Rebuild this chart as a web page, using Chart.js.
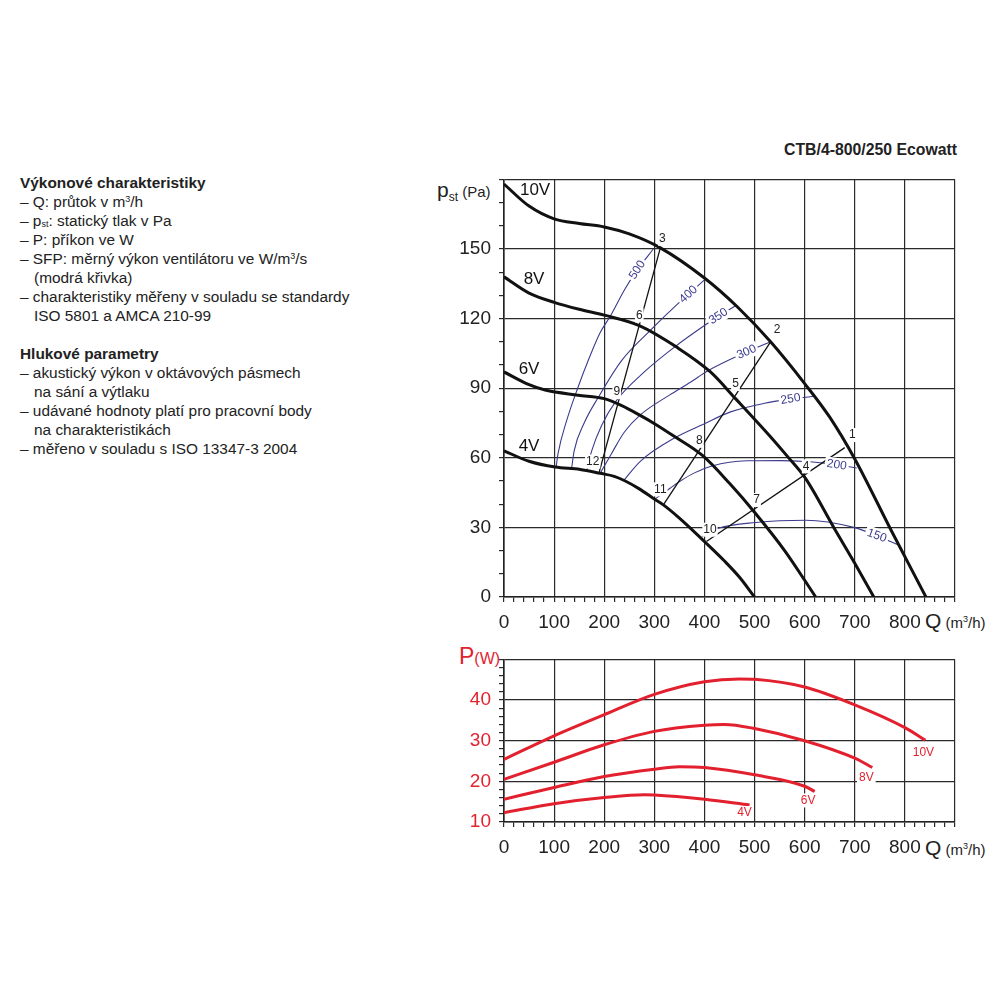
<!DOCTYPE html>
<html>
<head>
<meta charset="utf-8">
<script src="https://cdn.jsdelivr.net/npm/chart.js@4.4.0/dist/chart.umd.min.js"></script>
<style>
  body { margin: 0; background: #fff; font-family: 'Liberation Sans', Arial, sans-serif; color: #222; }
  #page { position: relative; width: 1000px; height: 1000px; overflow: hidden; }
  .abs { position: absolute; white-space: nowrap; }
  sup, sub { line-height: 0; }
  #notes { left: 20px; top: 173px; font-size: 15.4px; line-height: 19px; }
  #notes b { font-weight: bold; }
  #notes .in { padding-left: 14px; }
  #notes sub { font-size: 9px; vertical-align: -1px; }
  #notes sup { font-size: 9px; vertical-align: 5px; }
  #title { right: 43px; top: 141px; font-size: 15.8px; font-weight: bold; }
  .ax { line-height: 24px; }
  .ax sup { font-size: 9px; vertical-align: 6px; }
  .red { color: #e2232f; }
  canvas { position: absolute; }
</style>
</head>
<body>
<div id="page">
  <div id="notes" class="abs">
    <b>Výkonové charakteristiky</b><br>
    – Q: průtok v m<sup>3</sup>/h<br>
    – p<sub>st</sub>: statický tlak v Pa<br>
    – P: příkon ve W<br>
    – SFP: měrný výkon ventilátoru ve W/m<sup>3</sup>/s<br>
    <span class="in">(modrá křivka)</span><br>
    – charakteristiky měřeny v souladu se standardy<br>
    <span class="in">ISO 5801 a AMCA 210-99</span><br>
    <br>
    <b>Hlukové parametry</b><br>
    – akustický výkon v oktávových pásmech<br>
    <span class="in">na sání a výtlaku</span><br>
    – udávané hodnoty platí pro pracovní body<br>
    <span class="in">na charakteristikách</span><br>
    – měřeno v souladu s ISO 13347-3 2004
  </div>
  <div id="title" class="abs">CTB/4-800/250 Ecowatt</div>

  <div class="abs ax" style="left:437px; top:178px;"><span style="font-size:21px">p</span><span style="font-size:12px; vertical-align:-4px">st</span><span style="font-size:15px"> (Pa)</span></div>
  <div class="abs ax" style="left:925px; top:609px;"><span style="font-size:21px">Q</span><span style="font-size:15px"> (m<sup>3</sup>/h)</span></div>
  <div class="abs ax red" style="left:459px; top:644px;"><span style="font-size:23px">P</span><span style="font-size:16px">(W)</span></div>
  <div class="abs ax" style="left:925px; top:836px;"><span style="font-size:21px">Q</span><span style="font-size:15px"> (m<sup>3</sup>/h)</span></div>

  <canvas id="pressure" width="560" height="480" style="left:430px; top:160px;"></canvas>
  <canvas id="power" width="560" height="225" style="left:430px; top:640px;"></canvas>
</div>

<script>
// fan curves: [Q m3/h, pst Pa]
const curve10V = [[0,178],[50,168.5],[100,163],[150,161],[200,159.5],[250,156.5],[312,150.5],[400,137.5],[466,125],[532,110],[600,92],[650,77.5],[700,59.5],[772,29],[842,0]];
const curve8V = [[0,138],[50,131],[100,127],[150,124],[200,121.5],[270,117],[346,107.5],[412,97],[462,85.5],[530,69.5],[566,60.5],[602,51],[658,30],[700,14.5],[738,0]];
const curve6V = [[0,97],[50,91.5],[82,89.2],[148,87],[200,85.5],[235,82.5],[270,78.5],[302,74.5],[338,69.5],[396,61],[450,49],[502,36],[560,20],[622,0]];
const curve4V = [[0,63],[50,58.5],[102,56],[152,55],[192,53.3],[220,52],[242,50],[270,46.6],[300,42.2],[318,39.7],[350,34],[402,23.5],[440,15.5],[470,8.5],[500,0]];
const fanNames = ['10V', '8V', '6V', '4V'];
const fanNamePos = [[62,175.4],[60,137],[50,98],[50,64.8]];

// SFP curves (W/m3/s)
const sfp500 = [[104,56],[108,62],[125,76],[147,90],[170,103],[192,114],[212,121],[242,133],[266,141],[298,150]];
const sfp400 = [[135,55.5],[140,63],[160,75],[188,86],[235,102],[290,114.5],[345,126],[402,137]];
const sfp350 = [[165,54.5],[175,63],[195,74],[222,84],[280,97],[342,108],[400,117],[428,121],[462,125.5]];
const sfp300 = [[192,53.3],[215,62],[240,71],[272,78.5],[330,87],[372,92.6],[407,97.5],[482,105.4],[532,110]];
const sfp250 = [[238,50],[272,58.5],[340,68.5],[398,74.5],[452,79.8],[520,83.5],[572,85.3],[618,86.5]];
const sfp200 = [[300,42],[332,47],[352,50],[380,53.5],[415,56.5],[485,58.7],[552,58.8],[600,58.4],[639,57.7],[704,55.6]];
const sfp150 = [[395,26],[428,29.6],[502,32.1],[602,33.1],[698,30],[745,26.3],[786,22.5]];
const sfpValues = ['500', '400', '350', '300', '250', '200', '150'];
const sfpLabelQ = [266, 368, 428, 484, 572, 664, 744];

// system lines through operating points
const system1 = [[680,64.4],[404,23.9]];
const system2 = [[532,110],[318,39.7]];
const system3 = [[312,150.5],[190,53.8]];
const pointNumbers = ['1','2','3','4','5','6','7','8','9','10','11','12'];
const pointNumberPos = [[695,69.8],[545,115.3],[316,154.4],[603,56.3],[462,91.8],[270,121.4],[504,41.8],[390,67.3],[225,88.3],[411,29],[312,46.4],[177,58.4]];

// power curves: [Q m3/h, P W]
const power10V = [[0,25.4],[100,31.2],[200,36.4],[300,41.4],[400,44.5],[470,45.2],[500,45.1],[600,43.2],[700,38.8],[800,33.2],[841,30.1]];
const power8V = [[0,20.5],[100,24.7],[200,29],[300,32.3],[400,33.8],[440,34],[500,33],[600,30],[700,25.7],[735,23.4]];
const power6V = [[0,15.6],[100,18.5],[200,21.2],[300,23],[350,23.6],[400,23.4],[500,21.6],[600,18.8],[620,17.5]];
const power4V = [[0,12.3],[100,14.5],[200,16],[280,16.7],[300,16.65],[400,15.6],[490,14.2]];
const powerNamePos = [[837,27.1],[723,21],[607,15.3],[480,12.2]];

const FONT = "'Liberation Sans', Arial, sans-serif";
Chart.defaults.font.family = FONT;

function pts (arr) {
  return arr.map(([x, y]) => ({ x, y }))
}

function line (arr, color, width, smooth) {
  return {
    data: pts(arr),
    borderColor: color,
    borderWidth: width,
    pointRadius: 0,
    fill: false,
    cubicInterpolationMode: smooth ? 'monotone' : 'default',
    tension: 0
  }
}

function qScale () {
  return {
    type: 'linear', min: 0, max: 900,
    ticks: {
      stepSize: 20, autoSkip: false, maxRotation: 0, color: '#222',
      font: { size: 19 }, padding: 9,
      callback: (v) => (v % 100 === 0 && v < 900) ? v : ''
    },
    grid: {
      color: (c) => c.tick && c.tick.value % 100 === 0 ? '#2a2a2a' : 'rgba(0,0,0,0)',
      tickColor: '#2a2a2a', lineWidth: 1.2, tickLength: 5
    },
    border: { color: '#222', width: 1.6 },
    afterFit: (s) => { s.height = 43 }
  }
}

function valueScale (min, max, step, major, color) {
  return {
    type: 'linear', min: min, max: max,
    ticks: {
      stepSize: step, autoSkip: false, color: color, font: { size: 19 }, padding: 8,
      callback: (v) => (v % major === 0 && v < max) ? v : ''
    },
    grid: {
      color: (c) => c.tick && c.tick.value % major === 0 ? '#2a2a2a' : 'rgba(0,0,0,0)',
      tickColor: '#2a2a2a', lineWidth: 1.2, tickLength: 5
    },
    border: { color: '#222', width: 1.6 },
    afterFit: (s) => { s.width = 74 }
  }
}

function boxedText (ctx, text, px, py, angle, pad) {
  ctx.save();
  ctx.translate(px, py);
  ctx.rotate(angle);
  const w = ctx.measureText(text).width;
  ctx.fillStyle = '#fff';
  ctx.fillRect(-w / 2 - pad, -7, w + pad * 2, 14);
  ctx.fillStyle = ctx.strokeStyle;
  ctx.fillText(text, 0, 0);
  ctx.restore();
}

function curveAt (arr, q) {
  for (let i = 0; i < arr.length - 1; i++) {
    if (q >= arr[i][0] && q <= arr[i + 1][0]) {
      const t = (q - arr[i][0]) / (arr[i + 1][0] - arr[i][0]);
      return { y: arr[i][1] + t * (arr[i + 1][1] - arr[i][1]), a: arr[i], b: arr[i + 1] };
    }
  }
  return null;
}

const sfpCurves = [sfp500, sfp400, sfp350, sfp300, sfp250, sfp200, sfp150];

const pressureLabels = {
  id: 'pressureLabels',
  afterDatasetsDraw (chart) {
    const { ctx, scales: { x, y } } = chart;
    ctx.save();
    ctx.textAlign = 'center';
    ctx.textBaseline = 'middle';

    ctx.font = '17px ' + FONT;
    ctx.fillStyle = '#111';
    fanNames.forEach((n, i) => {
      ctx.fillText(n, x.getPixelForValue(fanNamePos[i][0]), y.getPixelForValue(fanNamePos[i][1]));
    });

    ctx.font = '12px ' + FONT;
    sfpCurves.forEach((arr, i) => {
      const hit = curveAt(arr, sfpLabelQ[i]);
      if (!hit) return;
      const dx = x.getPixelForValue(hit.b[0]) - x.getPixelForValue(hit.a[0]);
      const dy = y.getPixelForValue(hit.b[1]) - y.getPixelForValue(hit.a[1]);
      ctx.strokeStyle = '#3b3b8e';
      boxedText(ctx, sfpValues[i], x.getPixelForValue(sfpLabelQ[i]), y.getPixelForValue(hit.y), Math.atan2(dy, dx), 2);
    });

    ctx.font = '12px ' + FONT;
    pointNumbers.forEach((n, i) => {
      ctx.strokeStyle = '#222';
      boxedText(ctx, n, x.getPixelForValue(pointNumberPos[i][0]), y.getPixelForValue(pointNumberPos[i][1]), 0, 1);
    });
    ctx.restore();
  }
};

const powerLabels = {
  id: 'powerLabels',
  afterDatasetsDraw (chart) {
    const { ctx, scales: { x, y } } = chart;
    ctx.save();
    ctx.textAlign = 'center';
    ctx.textBaseline = 'middle';
    ctx.font = '12px ' + FONT;
    ctx.strokeStyle = '#e2232f';
    fanNames.forEach((n, i) => {
      boxedText(ctx, n, x.getPixelForValue(powerNamePos[i][0]), y.getPixelForValue(powerNamePos[i][1]), 0, 2);
    });
    ctx.restore();
  }
};

const common = {
  responsive: false,
  animation: false,
  events: [],
  devicePixelRatio: 1,
  plugins: { legend: { display: false }, tooltip: { enabled: false } }
};

const FAN = '#111';
const SFP = '#3b3b8e';

new Chart(document.getElementById('pressure'), {
  type: 'line',
  data: {
    datasets: [
      line(curve10V, FAN, 3, true),
      line(curve8V, FAN, 3, true),
      line(curve6V, FAN, 3, true),
      line(curve4V, FAN, 3, true),
      line(system1, '#111', 1.3, false),
      line(system2, '#111', 1.3, false),
      line(system3, '#111', 1.3, false),
      ...sfpCurves.map((arr) => line(arr, SFP, 1.1, true))
    ]
  },
  options: {
    ...common,
    layout: { padding: { top: 14, right: 35, left: 0, bottom: 0 } },
    scales: {
      x: qScale(),
      y: valueScale(0, 180, 10, 30, '#222')
    }
  },
  plugins: [pressureLabels]
});

const RED = '#e2202e';

new Chart(document.getElementById('power'), {
  type: 'line',
  data: {
    datasets: [
      line(power10V, RED, 3, true),
      line(power8V, RED, 3, true),
      line(power6V, RED, 3, true),
      line(power4V, RED, 3, true)
    ]
  },
  options: {
    ...common,
    layout: { padding: { top: 13, right: 35, left: 0, bottom: 0 } },
    scales: {
      x: qScale(),
      y: valueScale(10, 50, 2, 10, '#e2232f')
    }
  },
  plugins: [powerLabels]
});
</script>
</body>
</html>
